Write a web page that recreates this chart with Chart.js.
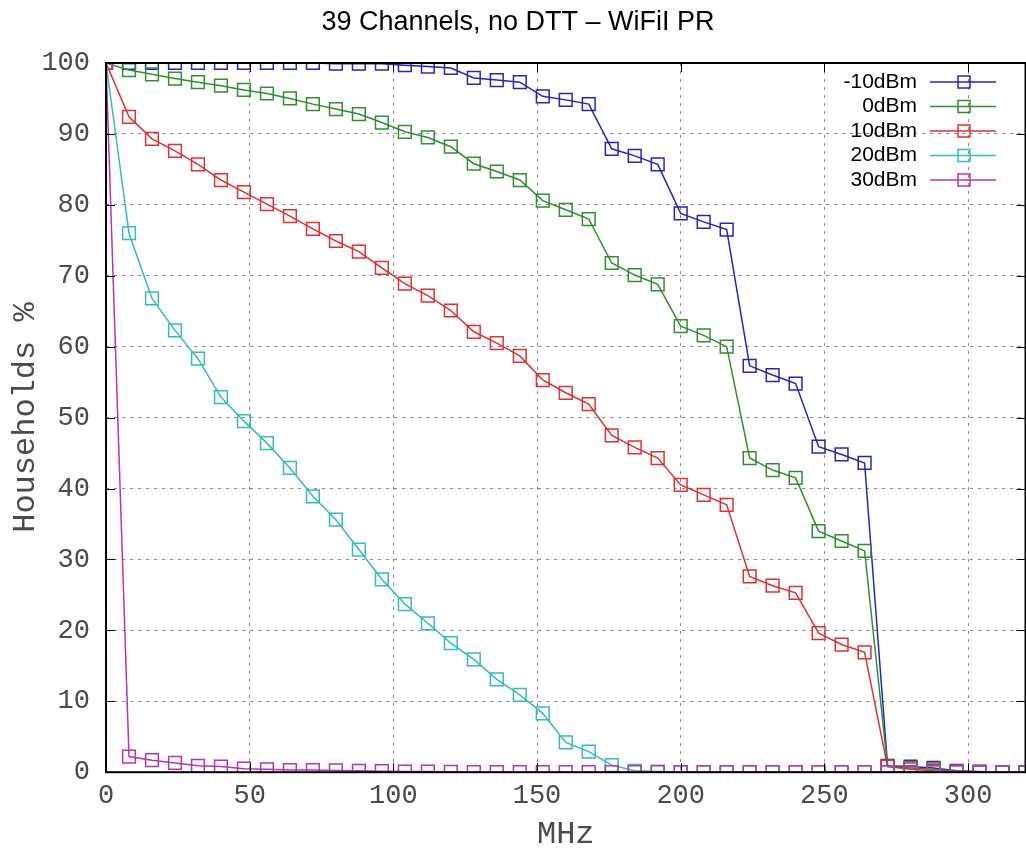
<!DOCTYPE html>
<html>
<head>
<meta charset="utf-8">
<script src="https://cdn.jsdelivr.net/npm/chart.js@4/dist/chart.umd.min.js"></script>
<style>
  body { margin: 0; background: #fff; overflow: hidden; }
  /* a little wider than the window: the line controller keeps half a marker of room on the right */
  #wrap { width: 1036px; height: 853px; position: relative; }
</style>
</head>
<body>
<div id="wrap"><canvas id="householdsGraph"></canvas></div>
<script>
const chartTitle = '39 Channels, no DTT \u2013 WiFiI PR';
const seriesLabels = ['-10dBm', '0dBm', '10dBm', '20dBm', '30dBm'];
const seriesColors = ['#2424c4', '#2f8f2f', '#e03030', '#33bcbc', '#b534b5'];

const freqMHz = [0, 8, 16, 24, 32, 40, 48, 56, 64, 72, 80, 88, 96, 104, 112, 120, 128, 136, 144, 152,
  160, 168, 176, 184, 192, 200, 208, 216, 224, 232, 240, 248, 256, 264, 272, 280, 288, 296, 304, 312, 320];

const minus10dBm = [100, 100, 100, 100, 100, 100, 100, 100, 100, 100, 99.9, 99.9, 99.9, 99.7, 99.5, 99.3, 97.9, 97.6, 97.3, 95.3,
  94.8, 94.2, 87.9, 86.9, 85.7, 78.8, 77.6, 76.5, 57.3, 56.0, 54.8, 45.9, 44.8, 43.6, 0.9, 0.8, 0.6, 0.2, 0.1, 0, 0];
const zero_dBm = [100, 99.0, 98.4, 97.8, 97.3, 96.8, 96.2, 95.7, 95.0, 94.2, 93.5, 92.8, 91.6, 90.3, 89.5, 88.2, 85.8, 84.7, 83.5, 80.6,
  79.3, 78.0, 71.8, 70.1, 68.8, 62.9, 61.6, 60.0, 44.3, 42.6, 41.5, 34.0, 32.6, 31.2, 0.8, 0.6, 0.4, 0.1, 0, 0, 0];
const ten_dBm = [100, 92.4, 89.3, 87.6, 85.7, 83.5, 81.8, 80.1, 78.4, 76.6, 74.9, 73.4, 71.1, 68.9, 67.2, 65.1, 62.1, 60.5, 58.7, 55.3,
  53.5, 51.9, 47.5, 45.8, 44.3, 40.5, 39.1, 37.7, 27.6, 26.3, 25.3, 19.6, 18.0, 16.9, 0.8, 0.4, 0.2, 0.1, 0, 0, 0];
const twenty_dBm = [100, 76.0, 66.8, 62.3, 58.3, 52.9, 49.5, 46.4, 42.9, 38.9, 35.6, 31.4, 27.2, 23.7, 21.0, 18.2, 15.9, 13.1, 10.9, 8.3,
  4.2, 2.9, 1.0, 0.2, 0.1, 0, 0, 0, 0, 0, 0, 0, 0, 0, 0, 0, 0, 0, 0, 0, 0];
const thirty_dBm = [100, 2.2, 1.7, 1.3, 0.9, 0.8, 0.5, 0.4, 0.3, 0.3, 0.25, 0.2, 0.15, 0.1, 0.1, 0.05, 0, 0, 0, 0,
  0, 0, 0, 0, 0, 0, 0, 0, 0, 0, 0, 0, 0, 0, 0, 0, 0, 0, 0, 0, 0];

const yTicks = [0, 10, 20, 30, 40, 50, 60, 70, 80, 90, 100];
const xTicks = [0, 50, 100, 150, 200, 250, 300];

const allSeries = [minus10dBm, zero_dBm, ten_dBm, twenty_dBm, thirty_dBm];

const monoFont = '"Liberation Mono", monospace';
const labelGrey = '#4a4a4a';

function toPoints(values) {
  return values.map((v, i) => ({ x: freqMHz[i], y: v }));
}

// gnuplot style frame: box with inward ticks on all four sides
const framePlugin = {
  id: 'frame',
  afterDraw(chart) {
    const { ctx, chartArea: a, scales } = chart;
    ctx.save();
    ctx.strokeStyle = '#000';
    ctx.lineWidth = 1;
    ctx.beginPath();
    yTicks.forEach(t => {
      const y = Math.round(scales.y.getPixelForValue(t)) + 0.5;
      ctx.moveTo(a.left, y); ctx.lineTo(a.left + 9, y);
      ctx.moveTo(a.right, y); ctx.lineTo(a.right - 9, y);
    });
    xTicks.forEach(t => {
      const x = Math.round(scales.x.getPixelForValue(t)) + 0.5;
      ctx.moveTo(x, a.bottom); ctx.lineTo(x, a.bottom - 9);
      ctx.moveTo(x, a.top); ctx.lineTo(x, a.top + 9);
    });
    ctx.stroke();
    ctx.lineWidth = 2;
    ctx.strokeRect(a.left, a.top, a.right - a.left, a.bottom - a.top);
    ctx.restore();
  }
};

// legend inside the plot, top right, text on the left of the sample
const keyPlugin = {
  id: 'key',
  afterDatasetsDraw(chart) {
    const { ctx } = chart;
    ctx.save();
    ctx.font = '21px "Liberation Sans", Arial, sans-serif';
    ctx.textAlign = 'right';
    ctx.textBaseline = 'middle';
    seriesLabels.forEach((label, i) => {
      const y = 82 + i * 24.5;
      ctx.fillStyle = '#000';
      ctx.fillText(label, 917, y);
      ctx.strokeStyle = seriesColors[i];
      ctx.lineWidth = 1.5;
      ctx.beginPath();
      ctx.moveTo(930, y); ctx.lineTo(996, y);
      ctx.stroke();
      ctx.strokeRect(958, y - 6, 12, 12);
    });
    ctx.restore();
  }
};

const ctxHouseholds = document.getElementById('householdsGraph').getContext('2d');

const householdsGraph = new Chart(ctxHouseholds, {
  type: 'line',
  data: {
    datasets: allSeries.map((values, i) => ({
      label: seriesLabels[i],
      data: toPoints(values),
      borderColor: seriesColors[i],
      backgroundColor: 'rgba(0,0,0,0)',
      borderWidth: 1.5,
      pointStyle: 'rect',
      pointRadius: 9,
      pointBorderWidth: 1.5,
      pointBorderColor: seriesColors[i],
      pointBackgroundColor: 'rgba(0,0,0,0)',
      tension: 0,
      order: 5 - i,
    }))
  },
  options: {
    responsive: true,
    maintainAspectRatio: false,
    animation: false,
    layout: { padding: { left: 0, right: 0, top: 0, bottom: -1 } },
    plugins: {
      legend: { display: false },
      tooltip: { enabled: false },
      title: {
        display: true,
        text: chartTitle,
        color: '#000',
        font: { family: '"Liberation Sans", Arial, sans-serif', size: 27, weight: 'normal' },
        padding: { top: 6, bottom: 24.6 },
      },
    },
    scales: {
      x: {
        type: 'linear',
        min: 0,
        max: 320,
        grid: { color: '#8a8a8a', lineWidth: 1, drawTicks: false },
        border: { display: false, dash: [3, 5] },
        ticks: {
          stepSize: 50,
          includeBounds: false,
          padding: 7,
          color: labelGrey,
          maxRotation: 0,
          font: { family: monoFont, size: 27 },
        },
        title: {
          display: true,
          text: 'MHz',
          color: labelGrey,
          font: { family: monoFont, size: 32 },
          padding: { top: -3, bottom: 0 },
        },
      },
      y: {
        min: 0,
        max: 100,
        grid: { color: '#8a8a8a', lineWidth: 1, drawTicks: false },
        border: { display: false, dash: [3, 5] },
        ticks: {
          stepSize: 10,
          padding: 16,
          color: labelGrey,
          font: { family: monoFont, size: 27 },
        },
        title: {
          display: true,
          text: 'Households %',
          color: labelGrey,
          font: { family: monoFont, size: 32 },
          padding: { top: 6, bottom: -19 },
        },
      },
    },
  },
  plugins: [framePlugin, keyPlugin],
});
</script>
</body>
</html>
